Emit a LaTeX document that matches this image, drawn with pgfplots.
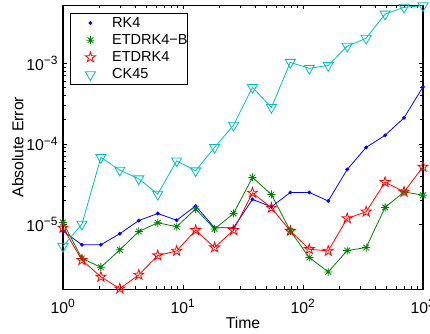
\documentclass[border=0pt]{standalone}
\usepackage{pgfplots}
\pgfplotsset{compat=1.18}
\usepackage{fontspec}
\setmainfont{Liberation Sans}
\definecolor{mblue}{rgb}{0,0,1}
\definecolor{mgreen}{rgb}{0,0.5,0}
\definecolor{mred}{rgb}{1,0,0}
\definecolor{mcyan}{rgb}{0,0.75,0.75}
\pgfdeclareplotmark{pentagram}{%
  \pgfpathmoveto{\pgfpointpolar{90}{\pgfplotmarksize}}%
  \pgfpathlineto{\pgfpointpolar{126}{0.382\pgfplotmarksize}}%
  \pgfpathlineto{\pgfpointpolar{162}{\pgfplotmarksize}}%
  \pgfpathlineto{\pgfpointpolar{198}{0.382\pgfplotmarksize}}%
  \pgfpathlineto{\pgfpointpolar{234}{\pgfplotmarksize}}%
  \pgfpathlineto{\pgfpointpolar{270}{0.382\pgfplotmarksize}}%
  \pgfpathlineto{\pgfpointpolar{306}{\pgfplotmarksize}}%
  \pgfpathlineto{\pgfpointpolar{342}{0.382\pgfplotmarksize}}%
  \pgfpathlineto{\pgfpointpolar{18}{\pgfplotmarksize}}%
  \pgfpathlineto{\pgfpointpolar{54}{0.382\pgfplotmarksize}}%
  \pgfpathclose\pgfusepathqstroke}
\pgfdeclareplotmark{mstar}{%
  \pgfpathmoveto{\pgfqpoint{-\pgfplotmarksize}{0pt}}\pgfpathlineto{\pgfqpoint{\pgfplotmarksize}{0pt}}%
  \pgfpathmoveto{\pgfqpoint{0pt}{-\pgfplotmarksize}}\pgfpathlineto{\pgfqpoint{0pt}{\pgfplotmarksize}}%
  \pgfpathmoveto{\pgfqpoint{-0.707\pgfplotmarksize}{-0.707\pgfplotmarksize}}\pgfpathlineto{\pgfqpoint{0.707\pgfplotmarksize}{0.707\pgfplotmarksize}}%
  \pgfpathmoveto{\pgfqpoint{-0.707\pgfplotmarksize}{0.707\pgfplotmarksize}}\pgfpathlineto{\pgfqpoint{0.707\pgfplotmarksize}{-0.707\pgfplotmarksize}}%
  \pgfusepathqstroke}
\newcommand{\tp}[1]{10\textsuperscript{\fontsize{9}{9}\selectfont #1}}
\newcommand{\lf}{\fontsize{10.9}{13}\selectfont}
\pgfplotstableread{
x        rk4      etdb     etd      ck
1        8.3e-6   1.06e-5  9.1e-6   5.37e-6
1.4384   5.6e-6   3.79e-6  3.61e-6  1.01e-5
2.0691   5.6e-6   2.95e-6  2.24e-6  6.79e-5
2.9764   7.7e-6   4.85e-6  1.60e-6  4.73e-5
4.2813   1.12e-5  8.2e-6   2.37e-6  3.69e-5
6.1585   1.37e-5  1.05e-5  4.12e-6  2.38e-5
8.8587   1.13e-5  9.4e-6   4.70e-6  6.17e-5
12.743   1.70e-5  1.56e-5  8.5e-6   4.64e-5
18.330   9.1e-6   8.8e-6   5.18e-6  9.06e-5
26.367   9.1e-6   1.37e-5  8.5e-6   1.71e-4
37.927   2.05e-5  3.84e-5  2.47e-5  5.03e-4
54.556   1.66e-5  2.36e-5  1.61e-5  2.84e-4
78.476   2.50e-5  8.3e-6   8.3e-6   1.03e-3
112.88   2.50e-5  3.89e-6  4.93e-6  8.67e-4
162.38   1.96e-5  2.58e-6  4.70e-6  9.44e-4
233.57   4.82e-5  4.75e-6  1.19e-5  1.63e-3
335.98   9.06e-5  5.18e-6  1.44e-5  2.05e-3
483.29   1.28e-4  1.63e-5  3.35e-5  4.09e-3
695.19   2.11e-4  2.54e-5  2.54e-5  4.97e-3
1000     5.12e-4  2.31e-5  5.19e-5  5.2e-3
}\data
\begin{document}
\begin{tikzpicture}
\begin{loglogaxis}[
  scale only axis, width=270pt, height=212.8pt,
  xmin=1, xmax=1000, ymin=1.58e-6, ymax=5.25e-3,
  clip=false,
  axis line style={line width=0.8pt},
  tick style={black, line width=0.6pt},
  tick align=inside,
  major tick length=2.8pt, minor tick length=2.2pt,
  xtick={1,10,100,1000},
  xticklabels={\tp{0},\tp{1},\tp{2},\tp{3}},
  ytick={1e-5,1e-4,1e-3},
  yticklabels={\tp{−5},\tp{−4},\tp{−3}},
  ticklabel style={font=\fontsize{11.8}{13}\selectfont},
  xticklabel style={yshift=-4pt},
  label style={font=\fontsize{11.8}{13}\selectfont},
  xlabel={Time}, ylabel={Absolute Error},
  xlabel style={at={(axis description cs:0.5,-0.12)}, anchor=center},
  ylabel style={at={(axis description cs:-0.126,0.5)}, anchor=center},
  every axis plot/.append style={line width=0.6pt},
  legend image code/.code={\draw[#1,only marks] plot coordinates {(0pt,0pt)}; \path[draw=none,fill=none] (-15pt,-6.45pt) rectangle (16.3pt,6.45pt);},
  legend style={at={(axis description cs:0,1)}, xshift=5.25pt, yshift=-5.5pt, anchor=north west,
    draw=black, line width=0.6pt, font=\lf,
    nodes={inner sep=0pt}, inner sep=0pt, inner ysep=1pt, row sep=0pt, column sep=0pt},
  legend cell align=left,
]
\addplot[mblue, mark=*, mark size=1.1pt] table[x=x,y=rk4]{\data};
\addplot[mgreen, mark=mstar, mark size=3pt] table[x=x,y=etdb]{\data};
\addplot[mred, mark=pentagram, mark size=4pt] table[x=x,y=etd]{\data};
\addplot[mcyan, mark=triangle, mark size=4.4pt, mark options={rotate=180}] table[x=x,y=ck]{\data};
\legend{{\lf RK4}, {\lf ETDRK4−B\hspace{7pt}}, {\lf ETDRK4}, {\lf CK45}}
\coordinate (SW) at (rel axis cs:0,0);
\coordinate (NE) at (rel axis cs:1,1);
\end{loglogaxis}
\pgfresetboundingbox
\path[use as bounding box] ([xshift=-47.25pt,yshift=-33pt]SW) rectangle ([xshift=5.25pt,yshift=4pt]NE);
\end{tikzpicture}
\end{document}
